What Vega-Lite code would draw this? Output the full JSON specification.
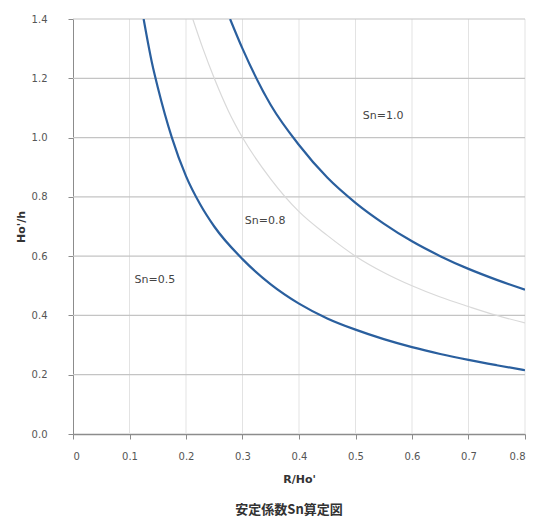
{
  "$schema": "https://vega.github.io/schema/vega-lite/v6.json",
  "autosize": "none",
  "padding": {"left": 73, "top": 19, "right": 20, "bottom": 85},
  "width": 452,
  "height": 415,
  "background": "white",
  "title": {"text": "安定係数Sn算定図", "orient": "bottom", "anchor": "middle", "fontSize": 13, "font": "Noto Sans CJK JP", "fontWeight": "bold", "color": "#333333", "offset": 20, "dx": -10},
  "config": {"view": {"stroke": null}},
  "datasets": {
    "curves": [
      {"sn": "0.5", "x": 0.125, "y": 1.4},
      {"sn": "0.5", "x": 0.14, "y": 1.25},
      {"sn": "0.5", "x": 0.15, "y": 1.17},
      {"sn": "0.5", "x": 0.175, "y": 1.0},
      {"sn": "0.5", "x": 0.2, "y": 0.87},
      {"sn": "0.5", "x": 0.225, "y": 0.775},
      {"sn": "0.5", "x": 0.25, "y": 0.70},
      {"sn": "0.5", "x": 0.3, "y": 0.59},
      {"sn": "0.5", "x": 0.35, "y": 0.505},
      {"sn": "0.5", "x": 0.4, "y": 0.44},
      {"sn": "0.5", "x": 0.45, "y": 0.39},
      {"sn": "0.5", "x": 0.5, "y": 0.352},
      {"sn": "0.5", "x": 0.55, "y": 0.32},
      {"sn": "0.5", "x": 0.6, "y": 0.293},
      {"sn": "0.5", "x": 0.65, "y": 0.27},
      {"sn": "0.5", "x": 0.7, "y": 0.25},
      {"sn": "0.5", "x": 0.75, "y": 0.232},
      {"sn": "0.5", "x": 0.8, "y": 0.215},
      {"sn": "0.8", "x": 0.212, "y": 1.4},
      {"sn": "0.8", "x": 0.23, "y": 1.3},
      {"sn": "0.8", "x": 0.25, "y": 1.2},
      {"sn": "0.8", "x": 0.275, "y": 1.09},
      {"sn": "0.8", "x": 0.3, "y": 1.0},
      {"sn": "0.8", "x": 0.35, "y": 0.86},
      {"sn": "0.8", "x": 0.4, "y": 0.75},
      {"sn": "0.8", "x": 0.45, "y": 0.67},
      {"sn": "0.8", "x": 0.5, "y": 0.60},
      {"sn": "0.8", "x": 0.55, "y": 0.545},
      {"sn": "0.8", "x": 0.6, "y": 0.50},
      {"sn": "0.8", "x": 0.65, "y": 0.462},
      {"sn": "0.8", "x": 0.7, "y": 0.43},
      {"sn": "0.8", "x": 0.75, "y": 0.40},
      {"sn": "0.8", "x": 0.8, "y": 0.375},
      {"sn": "1.0", "x": 0.278, "y": 1.4},
      {"sn": "1.0", "x": 0.3, "y": 1.3},
      {"sn": "1.0", "x": 0.35, "y": 1.11},
      {"sn": "1.0", "x": 0.4, "y": 0.975},
      {"sn": "1.0", "x": 0.45, "y": 0.865},
      {"sn": "1.0", "x": 0.5, "y": 0.78},
      {"sn": "1.0", "x": 0.55, "y": 0.71},
      {"sn": "1.0", "x": 0.6, "y": 0.65},
      {"sn": "1.0", "x": 0.65, "y": 0.60},
      {"sn": "1.0", "x": 0.7, "y": 0.557},
      {"sn": "1.0", "x": 0.75, "y": 0.52},
      {"sn": "1.0", "x": 0.8, "y": 0.487}
    ],
    "labels": [
      {"x": 0.549, "y": 1.073, "t": "Sn=1.0"},
      {"x": 0.34, "y": 0.719, "t": "Sn=0.8"},
      {"x": 0.145, "y": 0.52, "t": "Sn=0.5"}
    ]
  },
  "layer": [
    {
      "data": {"values": [{"v": 0.1}, {"v": 0.2}, {"v": 0.3}, {"v": 0.4}, {"v": 0.5}, {"v": 0.6}, {"v": 0.7}, {"v": 0.8}]},
      "mark": {"type": "rule", "color": "#e3e3e3", "strokeWidth": 1},
      "encoding": {"x": {"field": "v", "type": "quantitative", "scale": {"domain": [0, 0.8]}}}
    },
    {
      "data": {"values": [{"v": 0.2}, {"v": 0.4}, {"v": 0.6}, {"v": 0.8}, {"v": 1.0}, {"v": 1.2}, {"v": 1.4}]},
      "mark": {"type": "rule", "color": "#c4c4c4", "strokeWidth": 1.2},
      "encoding": {"y": {"field": "v", "type": "quantitative", "scale": {"domain": [0, 1.4]}}}
    },
    {
      "data": {"name": "curves"},
      "transform": [{"filter": "datum.sn == '0.8'"}],
      "mark": {"type": "line", "interpolate": "monotone", "clip": true, "color": "#d9d9d9", "strokeWidth": 1.2},
      "encoding": {
        "x": {"field": "x", "type": "quantitative"},
        "y": {"field": "y", "type": "quantitative"}
      }
    },
    {
      "data": {"name": "curves"},
      "transform": [{"filter": "datum.sn != '0.8'"}],
      "mark": {"type": "line", "interpolate": "monotone", "clip": true, "color": "#2a5f9e", "strokeWidth": 2.2},
      "encoding": {
        "x": {"field": "x", "type": "quantitative", "scale": {"domain": [0, 0.8]},
          "axis": {"title": "R/Ho'", "values": [0, 0.1, 0.2, 0.3, 0.4, 0.5, 0.6, 0.7, 0.8], "labelExpr": "datum.value == 0 ? '0' : format(datum.value, '.1f')", "grid": false, "domainColor": "#8c8c8c", "domainWidth": 1.5, "tickColor": "#8c8c8c", "tickSize": 5, "labelPadding": 12, "labelFontSize": 10, "labelColor": "#555555", "labelFont": "DejaVu Sans", "titleFontSize": 11, "titleFont": "DejaVu Sans", "titleColor": "#333333", "titleFontWeight": "bold", "titlePadding": 12}},
        "y": {"field": "y", "type": "quantitative", "scale": {"domain": [0, 1.4]},
          "axis": {"title": "Ho'/h", "values": [0, 0.2, 0.4, 0.6, 0.8, 1.0, 1.2, 1.4], "format": ".1f", "grid": false, "domainColor": "#8c8c8c", "domainWidth": 1, "tickColor": "#8c8c8c", "tickSize": 5, "labelPadding": 21, "labelFontSize": 10, "labelColor": "#555555", "labelFont": "DejaVu Sans", "titleFontSize": 11, "titleFont": "DejaVu Sans", "titleColor": "#333333", "titleFontWeight": "bold", "titlePadding": 5}},
        "detail": {"field": "sn", "type": "nominal"}
      }
    },
    {
      "data": {"name": "labels"},
      "mark": {"type": "text", "fontSize": 11, "font": "DejaVu Sans", "color": "#444444", "align": "center", "baseline": "middle"},
      "encoding": {
        "x": {"field": "x", "type": "quantitative"},
        "y": {"field": "y", "type": "quantitative"},
        "text": {"field": "t"}
      }
    }
  ]
}
